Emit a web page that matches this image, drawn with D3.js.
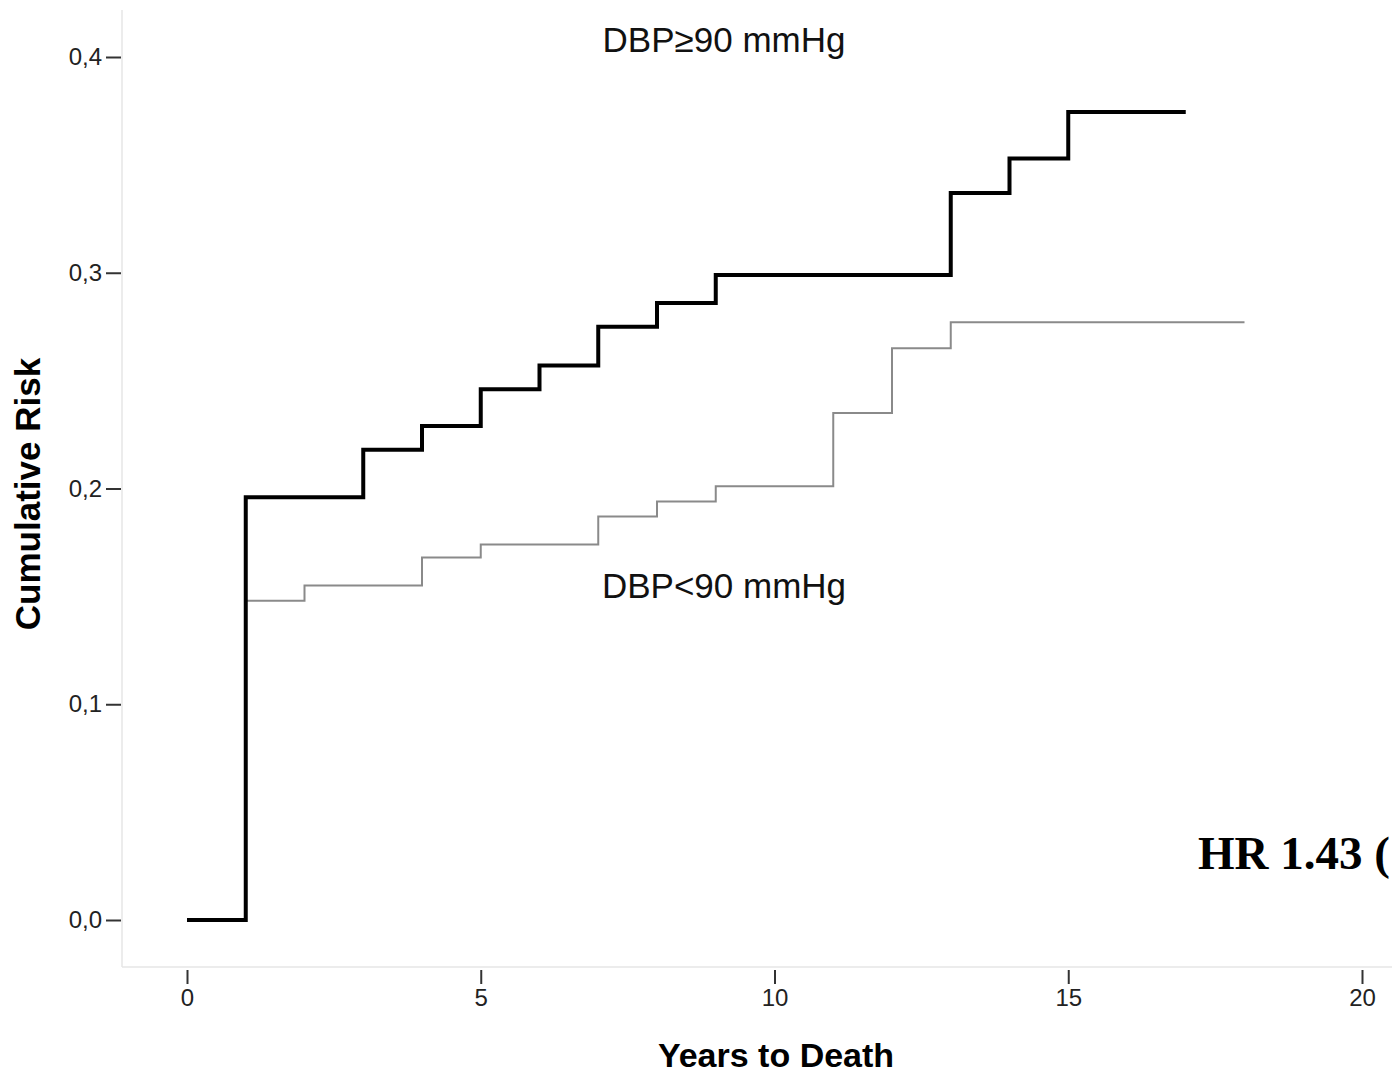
<!DOCTYPE html>
<html>
<head>
<meta charset="utf-8">
<script src="https://cdn.jsdelivr.net/npm/d3@7"></script>
<style>
  body { margin: 0; background: #fff; }
  svg { display: block; }
</style>
</head>
<body>
<div id="chart"></div>
<script>
// step times (years) and cumulative risk after each step
var highTimes = [0, 1, 3, 4, 5, 6, 7, 8, 9, 13, 14, 15, 17];
var highRisk  = [0, 0.196, 0.218, 0.229, 0.246, 0.257, 0.275, 0.286, 0.299, 0.337, 0.353, 0.3745, 0.3745];
var lowTimes = [0, 1, 2, 4, 5, 7, 8, 9, 11, 12, 13, 18];
var lowRisk  = [0, 0.148, 0.155, 0.168, 0.174, 0.187, 0.194, 0.201, 0.235, 0.265, 0.277, 0.277];
var xTicks = [0, 5, 10, 15, 20];
var yTicks = [0, 0.1, 0.2, 0.3, 0.4];

var width = 1392, height = 1073;
var x0 = 122, yBase = 967;

var svg = d3.select("#chart").append("svg")
  .attr("width", width).attr("height", height);

var x = d3.scaleLinear().domain([0, 20]).range([187, 1362]);
var y = d3.scaleLinear().domain([0, 0.4]).range([920, 57]);

// frame lines (left and bottom)
svg.append("line").attr("x1", x0).attr("x2", x0).attr("y1", 10).attr("y2", yBase)
  .attr("stroke", "#e6e6e6").attr("stroke-width", 1.5);
svg.append("line").attr("x1", x0).attr("x2", width).attr("y1", yBase).attr("y2", yBase)
  .attr("stroke", "#e6e6e6").attr("stroke-width", 1.5);

var yAxis = svg.append("g").attr("transform", "translate(" + (x0 - 1) + ",0)")
  .call(d3.axisLeft(y).tickValues(yTicks).tickSize(15).tickPadding(4)
    .tickFormat(function(d) { return d3.format(".1f")(d).replace(".", ","); }));
yAxis.select(".domain").remove();
yAxis.selectAll(".tick line").attr("stroke", "#333").attr("stroke-width", 2);
yAxis.selectAll(".tick text").attr("font-family", "Liberation Sans, Arial, sans-serif")
  .attr("font-size", 24).attr("fill", "#222");

var xAxis = svg.append("g").attr("transform", "translate(0," + (yBase + 3) + ")")
  .call(d3.axisBottom(x).tickValues(xTicks).tickSize(14).tickPadding(5).tickFormat(d3.format("d")));
xAxis.select(".domain").remove();
xAxis.selectAll(".tick line").attr("stroke", "#333").attr("stroke-width", 2);
xAxis.selectAll(".tick text").attr("font-family", "Liberation Sans, Arial, sans-serif")
  .attr("font-size", 24).attr("fill", "#222");

var line = d3.line()
  .x(function(d) { return x(d[0]); })
  .y(function(d) { return y(d[1]); })
  .curve(d3.curveStepAfter);

svg.append("path").datum(d3.zip(lowTimes, lowRisk))
  .attr("d", line).attr("fill", "none")
  .attr("stroke", "#8a8a8a").attr("stroke-width", 2);

svg.append("path").datum(d3.zip(highTimes, highRisk))
  .attr("d", line).attr("fill", "none")
  .attr("stroke", "#000").attr("stroke-width", 4);

svg.append("text").attr("x", 724).attr("y", 52).attr("text-anchor", "middle")
  .attr("font-family", "Liberation Sans, Arial, sans-serif").attr("font-size", 35)
  .attr("fill", "#111").text("DBP\u226590 mmHg");
svg.append("text").attr("x", 724).attr("y", 598).attr("text-anchor", "middle")
  .attr("font-family", "Liberation Sans, Arial, sans-serif").attr("font-size", 35)
  .attr("fill", "#111").text("DBP<90 mmHg");

svg.append("text").attr("x", 776).attr("y", 1067).attr("text-anchor", "middle")
  .attr("font-family", "Liberation Sans, Arial, sans-serif").attr("font-size", 34)
  .attr("font-weight", "bold").text("Years to Death");
svg.append("text").attr("transform", "translate(40,494) rotate(-90)").attr("text-anchor", "middle")
  .attr("font-family", "Liberation Sans, Arial, sans-serif").attr("font-size", 35)
  .attr("font-weight", "bold").text("Cumulative Risk");

svg.append("text").attr("x", 1198).attr("y", 869)
  .attr("font-family", "Liberation Serif, Times New Roman, serif").attr("font-size", 47)
  .attr("font-weight", "bold").text("HR 1.43 (");
</script>
</body>
</html>
